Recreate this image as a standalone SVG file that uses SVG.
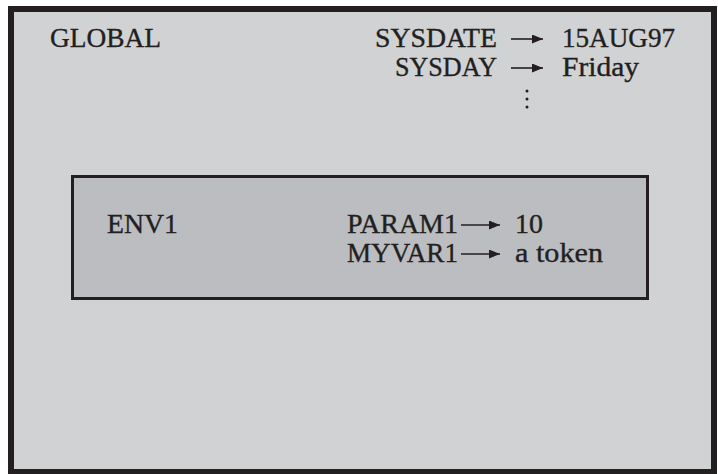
<svg xmlns="http://www.w3.org/2000/svg" width="718" height="474" viewBox="0 0 718 474">
  <style>
    .t { font-family: "Liberation Serif", "Times New Roman", serif; font-size: 27px; fill: #231f20; stroke: #231f20; stroke-width: 0.35; }
    .arrow { stroke: #231f20; stroke-width: 1.6; fill: none; marker-end: url(#ah); }
  </style>
  <defs>
    <marker id="ah" markerUnits="userSpaceOnUse" markerWidth="11" markerHeight="9" refX="11" refY="4.5" orient="auto">
      <path d="M0,0 L11,4.5 L0,9 z" fill="#231f20"/>
    </marker>
  </defs>
  <rect x="0" y="0" width="718" height="474" fill="#ffffff"/>
  <g id="global">
    <rect x="11" y="9" width="703" height="463" fill="#d1d2d4" stroke="#231f20" stroke-width="6"/>
    <text class="t" x="50" y="47" textLength="111" lengthAdjust="spacingAndGlyphs">GLOBAL</text>
    <text class="t" x="375" y="47" textLength="122" lengthAdjust="spacingAndGlyphs">SYSDATE</text>
    <text class="t" x="562" y="47" textLength="113" lengthAdjust="spacingAndGlyphs">15AUG97</text>
    <text class="t" x="395" y="76" textLength="102" lengthAdjust="spacingAndGlyphs">SYSDAY</text>
    <text class="t" x="562" y="76" textLength="77" lengthAdjust="spacingAndGlyphs">Friday</text>
    <g fill="#231f20">
      <circle cx="527" cy="91" r="1.5"/>
      <circle cx="527" cy="99" r="1.5"/>
      <circle cx="527" cy="107" r="1.5"/>
    </g>
  </g>
  <g id="env1">
    <rect x="72.5" y="176.5" width="575" height="122" fill="#bcbdc0" stroke="#231f20" stroke-width="3"/>
    <text class="t" x="107" y="233" textLength="71" lengthAdjust="spacingAndGlyphs">ENV1</text>
    <text class="t" x="347" y="233" textLength="111" lengthAdjust="spacingAndGlyphs">PARAM1</text>
    <text class="t" x="515" y="233" textLength="28" lengthAdjust="spacingAndGlyphs">10</text>
    <text class="t" x="347" y="262" textLength="111" lengthAdjust="spacingAndGlyphs">MYVAR1</text>
    <text class="t" x="515" y="262" textLength="88" lengthAdjust="spacingAndGlyphs">a token</text>
  </g>
  <g id="connectors">
    <line class="arrow" x1="511" y1="39" x2="543" y2="39"/>
    <line class="arrow" x1="511" y1="68" x2="543" y2="68"/>
    <line class="arrow" x1="461" y1="225" x2="500" y2="225"/>
    <line class="arrow" x1="461" y1="254" x2="500" y2="254"/>
  </g>
</svg>
